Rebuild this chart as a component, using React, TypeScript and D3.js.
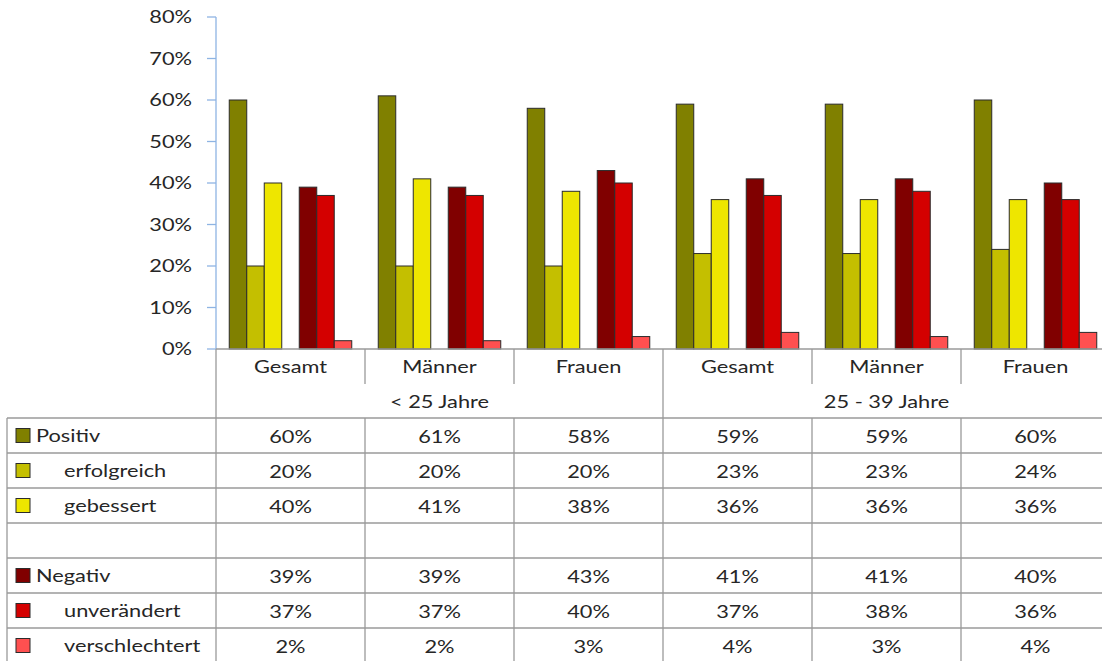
import React from "react";
import * as d3 from "d3";

const categories = ["Gesamt", "Männer", "Frauen", "Gesamt", "Männer", "Frauen"];
const ageGroups = ["< 25 Jahre", "25 - 39 Jahre"];
const positiv = [60, 61, 58, 59, 59, 60];
const erfolgreich = [20, 20, 20, 23, 23, 24];
const gebessert = [40, 41, 38, 36, 36, 36];
const negativ = [39, 39, 43, 41, 41, 40];
const unveraendert = [37, 37, 40, 37, 38, 36];
const verschlechtert = [2, 2, 3, 4, 3, 4];
const yTicks = [0, 10, 20, 30, 40, 50, 60, 70, 80];

type Row = { name: string; values: number[] | null; color: string; indent: boolean };
const rows: Row[] = [
  { name: "Positiv", values: positiv, color: "#808000", indent: false },
  { name: "erfolgreich", values: erfolgreich, color: "#C4BF00", indent: true },
  { name: "gebessert", values: gebessert, color: "#EEE600", indent: true },
  { name: "", values: null, color: "none", indent: false },
  { name: "Negativ", values: negativ, color: "#800000", indent: false },
  { name: "unverändert", values: unveraendert, color: "#D40000", indent: true },
  { name: "verschlechtert", values: verschlechtert, color: "#FF5050", indent: true },
];

const W = 1102;
const H = 661;
const axisX = 216;
const rightX = 1110;
const y0 = 349;
const yTop = 17;
const tableTop = 418;
const rowH = 35;
const tableLeft = 7;
const FONT = "Lato, 'Open Sans', sans-serif";
const TXT = "#262626";
const GRID = "#9a9a9a";
const FS = 18;
const SX = 1.21;

function T(props: { x: number; y: number; anchor?: string; children: React.ReactNode }) {
  return (
    <text
      transform={`translate(${props.x},${props.y}) scale(${SX},1)`}
      textAnchor={props.anchor || "start"}
      fontSize={FS}
      fill={TXT}
      dy="0.35em"
    >
      {props.children}
    </text>
  );
}

export default function App() {
  const idx = categories.map((_, i) => String(i));
  const x = d3.scaleBand<string>().domain(idx).range([axisX, rightX]).padding(0);
  const slots = rows.map((_, i) => String(i));
  const xs = d3
    .scaleBand<string>()
    .domain(slots)
    .range([0, x.bandwidth()])
    .paddingInner(0)
    .paddingOuter(0.757);
  const y = d3.scaleLinear().domain([0, 80]).range([y0, yTop]);

  const ageX = d3.scaleBand<string>().domain(ageGroups).range([axisX, rightX]);

  return (
    <svg
      width={W}
      height={H}
      style={{ position: "absolute", left: 0, top: 0, background: "#fff" }}
      fontFamily={FONT}
    >
      {/* bars */}
      {rows.map((r, si) =>
        r.values
          ? r.values.map((v, gi) => (
              <rect
                key={`b${si}-${gi}`}
                x={(x(String(gi)) as number) + (xs(String(si)) as number)}
                y={y(v)}
                width={xs.bandwidth()}
                height={y0 - y(v)}
                fill={r.color}
                stroke="#2b2b2b"
                strokeWidth={1}
              />
            ))
          : null
      )}

      {/* y axis */}
      <line x1={axisX} x2={axisX} y1={yTop} y2={y0} stroke="#8EB4E3" strokeWidth={1.3} />
      {yTicks.map((t) => (
        <g key={`t${t}`}>
          <line x1={axisX - 9} x2={axisX} y1={y(t)} y2={y(t)} stroke="#8EB4E3" strokeWidth={1.3} />
          <T x={192} y={y(t)} anchor="end">
            {t}%
          </T>
        </g>
      ))}

      {/* baseline */}
      <line x1={axisX} x2={rightX} y1={y0} y2={y0} stroke={GRID} strokeWidth={1.3} />

      {/* category labels and dividers */}
      {categories.map((c, gi) => {
        const gx = x(String(gi)) as number;
        return (
          <g key={`c${gi}`}>
            <T x={gx + x.bandwidth() / 2} y={367} anchor="middle">
              {c}
            </T>
            {gi > 0 && (
              <line
                x1={gx}
                x2={gx}
                y1={y0}
                y2={gi === 3 ? tableTop : 384}
                stroke={GRID}
                strokeWidth={1.3}
              />
            )}
          </g>
        );
      })}

      {/* age group labels */}
      {ageGroups.map((a) => (
        <T key={a} x={(ageX(a) as number) + ageX.bandwidth() / 2} y={402} anchor="middle">
          {a}
        </T>
      ))}

      {/* left vertical line */}
      <line x1={axisX} x2={axisX} y1={y0} y2={H} stroke={GRID} strokeWidth={1.3} />

      {/* table */}
      <line x1={tableLeft} x2={tableLeft} y1={tableTop} y2={H} stroke={GRID} strokeWidth={1.3} />
      {categories.map((_, gi) =>
        gi > 0 ? (
          <line
            key={`tv${gi}`}
            x1={x(String(gi)) as number}
            x2={x(String(gi)) as number}
            y1={tableTop}
            y2={H}
            stroke={GRID}
            strokeWidth={1.3}
          />
        ) : null
      )}
      {rows.map((r, ri) => {
        const top = tableTop + ri * rowH;
        return (
          <g key={`r${ri}`}>
            <line x1={tableLeft} x2={rightX} y1={top} y2={top} stroke={GRID} strokeWidth={1.3} />
            {r.values && (
              <>
                <rect
                  x={16}
                  y={top + rowH / 2 - 7}
                  width={14}
                  height={14}
                  fill={r.color}
                  stroke="#2b2b2b"
                  strokeWidth={1}
                />
                <T x={r.indent ? 64 : 36} y={top + rowH / 2}>
                  {r.name}
                </T>
                {r.values.map((v, gi) => (
                  <T
                    key={`v${ri}-${gi}`}
                    x={(x(String(gi)) as number) + x.bandwidth() / 2}
                    y={top + rowH / 2 + 1}
                    anchor="middle"
                  >
                    {v}%
                  </T>
                ))}
              </>
            )}
          </g>
        );
      })}
    </svg>
  );
}
